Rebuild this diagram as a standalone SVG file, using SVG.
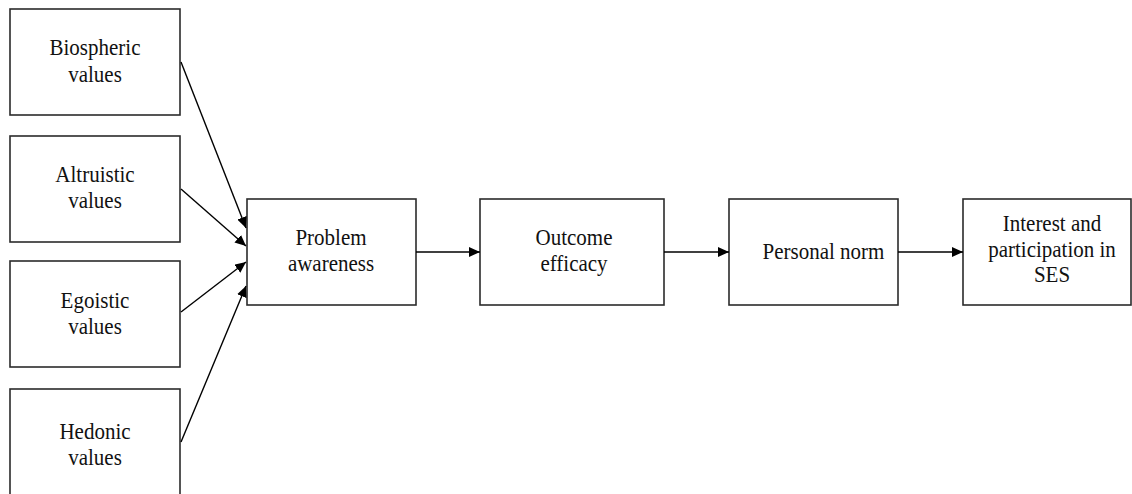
<svg xmlns="http://www.w3.org/2000/svg" width="1132" height="494" viewBox="0 0 1132 494">
  <style>
    .box { fill: #ffffff; stroke: #2b2b2b; stroke-width: 1.6; }
    .edge { stroke: #000000; stroke-width: 1.4; fill: none; marker-end: url(#head); }
  </style>
  <defs>
    <marker id="head" viewBox="0 0 11 10" refX="11" refY="5" markerWidth="11" markerHeight="10" markerUnits="userSpaceOnUse" orient="auto">
      <path d="M0,0 L11,5 L0,10 Z" fill="#000000"/>
    </marker>
  </defs>
  <rect width="1132" height="494" fill="#ffffff"/>

  <!-- labels are slightly tall: each text uses matrix(1 0 0 1.07 x y) -->
  <g font-family="Liberation Serif, serif" font-size="21" fill="#111111" text-anchor="middle">

    <!-- value nodes -->
    <g id="biospheric">
      <rect class="box" x="10" y="9" width="170" height="106"/>
      <text transform="matrix(1 0 0 1.07 95 55)">Biospheric</text>
      <text transform="matrix(1 0 0 1.07 95 82)">values</text>
    </g>
    <g id="altruistic">
      <rect class="box" x="10" y="136" width="170" height="106"/>
      <text transform="matrix(1 0 0 1.07 95 182)">Altruistic</text>
      <text transform="matrix(1 0 0 1.07 95 208)">values</text>
    </g>
    <g id="egoistic">
      <rect class="box" x="10" y="261" width="170" height="106"/>
      <text transform="matrix(1 0 0 1.07 95 308)">Egoistic</text>
      <text transform="matrix(1 0 0 1.07 95 334)">values</text>
    </g>
    <g id="hedonic">
      <rect class="box" x="10" y="389" width="170" height="110"/>
      <text transform="matrix(1 0 0 1.07 95 439)">Hedonic</text>
      <text transform="matrix(1 0 0 1.07 95 465)">values</text>
    </g>

    <!-- chain nodes -->
    <g id="problem-awareness">
      <rect class="box" x="247" y="199" width="169" height="106"/>
      <text transform="matrix(1 0 0 1.07 331 245)">Problem</text>
      <text transform="matrix(1 0 0 1.07 331 271)">awareness</text>
    </g>
    <g id="outcome-efficacy">
      <rect class="box" x="480" y="199" width="184" height="106"/>
      <text transform="matrix(1 0 0 1.07 574 245)">Outcome</text>
      <text transform="matrix(1 0 0 1.07 574 271)">efficacy</text>
    </g>
    <g id="personal-norm">
      <rect class="box" x="729" y="199" width="169" height="106"/>
      <text transform="matrix(1 0 0 1.07 823.5 259)">Personal norm</text>
    </g>
    <g id="interest-participation">
      <rect class="box" x="963" y="199" width="168" height="106"/>
      <text transform="matrix(1 0 0 1.07 1052 231)">Interest and</text>
      <text transform="matrix(1 0 0 1.07 1052 257)">participation in</text>
      <text transform="matrix(1 0 0 1.07 1052 282)">SES</text>
    </g>
  </g>

  <!-- connectors -->
  <g id="connectors">
    <line class="edge" x1="181" y1="62" x2="246" y2="228"/>
    <line class="edge" x1="181" y1="189" x2="246" y2="246"/>
    <line class="edge" x1="181" y1="312" x2="246" y2="262"/>
    <line class="edge" x1="181" y1="442" x2="246" y2="286"/>
    <line class="edge" x1="416" y1="252" x2="480" y2="252"/>
    <line class="edge" x1="664" y1="252" x2="729" y2="252"/>
    <line class="edge" x1="898" y1="252" x2="963" y2="252"/>
  </g>
</svg>
